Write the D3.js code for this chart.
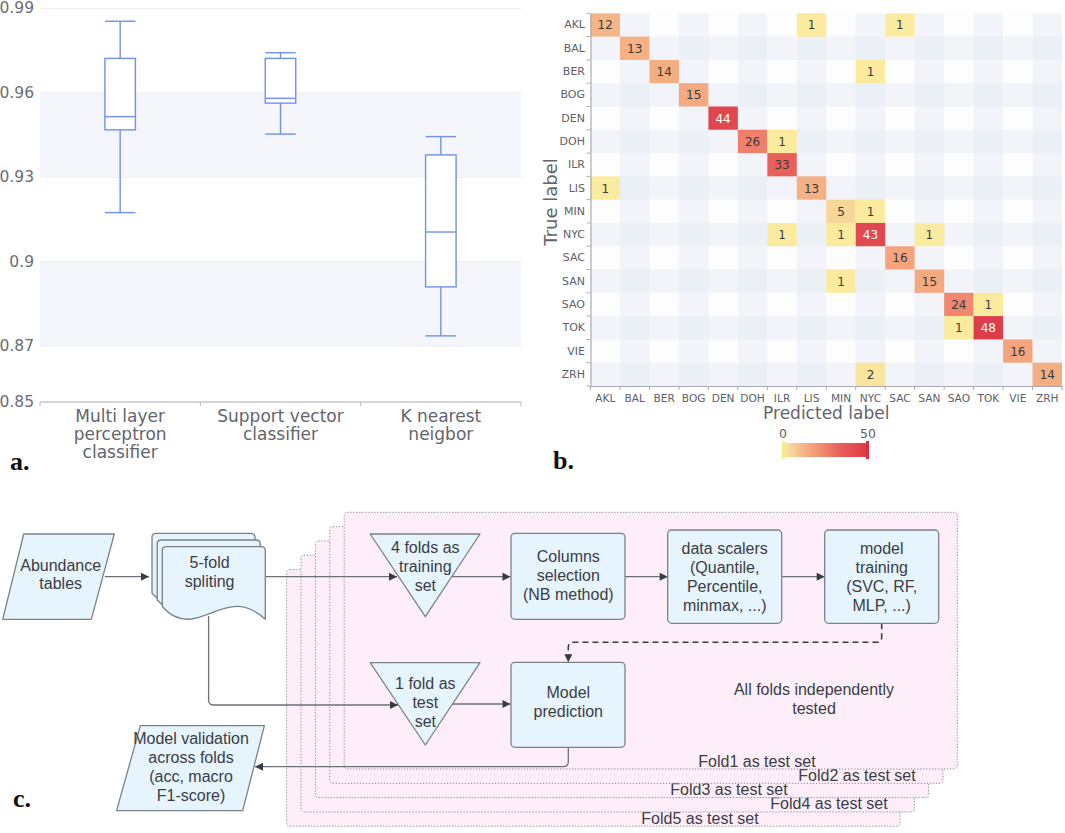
<!DOCTYPE html>
<html>
<head>
<meta charset="utf-8">
<script src="https://cdn.jsdelivr.net/npm/d3@7"></script>
<style>
  body { margin: 0; background: #fff; }
  svg { display: block; }
</style>
</head>
<body>
<div class="canvas"></div>
<script>
// ---- panel a: accuracy box plots
const boxLabels = [["Multi layer", "perceptron", "classifier"], ["Support vector", "classifier"], ["K nearest", "neigbor"]];
const boxLow    = [0.9173, 0.9452, 0.8735];
const boxQ1     = [0.9467, 0.9562, 0.8909];
const boxMedian = [0.9514, 0.9579, 0.9104];
const boxQ3     = [0.9721, 0.9721, 0.9378];
const boxHigh   = [0.9853, 0.9741, 0.9443];
const yTicks = [0.85, 0.87, 0.9, 0.93, 0.96, 0.99];

// ---- panel b: confusion matrix
const cities = ["AKL", "BAL", "BER", "BOG", "DEN", "DOH", "ILR", "LIS", "MIN", "NYC", "SAC", "SAN", "SAO", "TOK", "VIE", "ZRH"];
const confusion = [
  [12, 0, 0, 0, 0, 0, 0, 1, 0, 0, 1, 0, 0, 0, 0, 0],
  [0, 13, 0, 0, 0, 0, 0, 0, 0, 0, 0, 0, 0, 0, 0, 0],
  [0, 0, 14, 0, 0, 0, 0, 0, 0, 1, 0, 0, 0, 0, 0, 0],
  [0, 0, 0, 15, 0, 0, 0, 0, 0, 0, 0, 0, 0, 0, 0, 0],
  [0, 0, 0, 0, 44, 0, 0, 0, 0, 0, 0, 0, 0, 0, 0, 0],
  [0, 0, 0, 0, 0, 26, 1, 0, 0, 0, 0, 0, 0, 0, 0, 0],
  [0, 0, 0, 0, 0, 0, 33, 0, 0, 0, 0, 0, 0, 0, 0, 0],
  [1, 0, 0, 0, 0, 0, 0, 13, 0, 0, 0, 0, 0, 0, 0, 0],
  [0, 0, 0, 0, 0, 0, 0, 0, 5, 1, 0, 0, 0, 0, 0, 0],
  [0, 0, 0, 0, 0, 0, 1, 0, 1, 43, 0, 1, 0, 0, 0, 0],
  [0, 0, 0, 0, 0, 0, 0, 0, 0, 0, 16, 0, 0, 0, 0, 0],
  [0, 0, 0, 0, 0, 0, 0, 0, 1, 0, 0, 15, 0, 0, 0, 0],
  [0, 0, 0, 0, 0, 0, 0, 0, 0, 0, 0, 0, 24, 1, 0, 0],
  [0, 0, 0, 0, 0, 0, 0, 0, 0, 0, 0, 0, 1, 48, 0, 0],
  [0, 0, 0, 0, 0, 0, 0, 0, 0, 0, 0, 0, 0, 0, 16, 0],
  [0, 0, 0, 0, 0, 0, 0, 0, 0, 2, 0, 0, 0, 0, 0, 14]
];
const colorTicks = [0, 50];

// ---- panel c: flowchart texts
const abundanceText = ["Abundance", "tables"];
const splitText = ["5-fold", "spliting"];
const trainSetText = ["4 folds as", "training", "set"];
const testSetText = ["1 fold as", "test", "set"];
const columnsText = ["Columns", "selection", "(NB method)"];
const scalersText = ["data scalers", "(Quantile,", "Percentile,", "minmax, ...)"];
const trainingText = ["model", "training", "(SVC, RF,", "MLP, ...)"];
const predictionText = ["Model", "prediction"];
const validationText = ["Model validation", "across folds", "(acc, macro", "F1-score)"];
const noteText = ["All folds independently", "tested"];
const foldLabels = ["Fold1 as test set", "Fold2 as test set", "Fold3 as test set", "Fold4 as test set", "Fold5 as test set"];

const svg = d3.select('.canvas')
  .append('svg')
    .attr('width', 1065)
    .attr('height', 833);

const sans = 'DejaVu Sans, Verdana, sans-serif';
const arial = 'Liberation Sans, Arial, sans-serif';
const serif = 'Liberation Serif, Times New Roman, serif';

const panelLabel = (x, y, t) => svg.append('text')
  .attr('x', x).attr('y', y)
  .attr('font-family', serif).attr('font-weight', 'bold')
  .attr('font-size', 26).attr('fill', '#111')
  .text(t);

// ================= panel a =================
const bx = d3.scaleBand().domain(d3.range(boxLabels.length)).range([40, 521]);
const by = d3.scaleLinear().domain([0.85, 0.99]).range([402, 8]);

const boxG = svg.append('g');

// alternating bands
[[0.87, 0.9], [0.93, 0.96]].forEach(([a, b]) => {
  boxG.append('rect')
    .attr('x', 40).attr('width', 481)
    .attr('y', by(b)).attr('height', by(a) - by(b))
    .attr('fill', '#f4f6fb');
});

// gridlines + y labels
const yAxis = d3.axisLeft(by)
  .tickValues(yTicks)
  .tickFormat(d3.format('~g'))
  .tickSize(-481)
  .tickPadding(6);
const yAxisGroup = boxG.append('g')
  .attr('transform', 'translate(40,0)')
  .call(yAxis);
yAxisGroup.select('.domain').remove();
yAxisGroup.selectAll('line').attr('stroke', '#eceef3');
yAxisGroup.selectAll('text')
  .attr('font-family', sans).attr('font-size', 15.5).attr('fill', '#6a6d75');

// x axis line with boundary ticks
boxG.append('line')
  .attr('x1', 40).attr('x2', 521).attr('y1', by(0.85)).attr('y2', by(0.85))
  .attr('stroke', '#b4b6bb').attr('stroke-width', 1.2);
d3.range(boxLabels.length + 1).forEach(i => {
  const x = 40 + i * bx.step();
  boxG.append('line')
    .attr('x1', x).attr('x2', x).attr('y1', by(0.85)).attr('y2', by(0.85) + 4)
    .attr('stroke', '#b4b6bb');
});
boxLabels.forEach((lines, i) => {
  const t = boxG.append('text')
    .attr('text-anchor', 'middle')
    .attr('font-family', sans).attr('font-size', 17).attr('fill', '#62656d');
  lines.forEach((l, k) => {
    t.append('tspan')
      .attr('x', bx(i) + bx.bandwidth() / 2)
      .attr('y', 422 + k * 18)
      .text(l);
  });
});

// boxes
const boxW = 30.5;
const boxColor = '#7191ea';
boxLabels.forEach((_, i) => {
  const cx = bx(i) + bx.bandwidth() / 2;
  const g = boxG.append('g').attr('stroke', boxColor).attr('stroke-width', 1.4).attr('fill', 'none');
  g.append('line').attr('x1', cx).attr('x2', cx).attr('y1', by(boxHigh[i])).attr('y2', by(boxLow[i]));
  [boxHigh[i], boxLow[i]].forEach(v => {
    g.append('line').attr('x1', cx - boxW / 2).attr('x2', cx + boxW / 2).attr('y1', by(v)).attr('y2', by(v));
  });
  g.append('rect')
    .attr('x', cx - boxW / 2).attr('width', boxW)
    .attr('y', by(boxQ3[i])).attr('height', by(boxQ1[i]) - by(boxQ3[i]))
    .attr('fill', '#fff');
  g.append('line').attr('x1', cx - boxW / 2).attr('x2', cx + boxW / 2)
    .attr('y1', by(boxMedian[i])).attr('y2', by(boxMedian[i]));
});

panelLabel(10, 470, 'a.');

// ================= panel b =================
const hx = d3.scaleBand().domain(cities).range([590.5, 1062]);
const hy = d3.scaleBand().domain(cities).range([13.3, 386]);
const color = d3.scaleLinear()
  .domain([0, 1, 5, 13, 26, 33, 44, 50])
  .range(['#fbf3a8', '#faeb9f', '#f7d698', '#f5b184', '#ef7f6a', '#e9605a', '#e0474f', '#db3845']);

const heatG = svg.append('g');
heatG.append('rect')
  .attr('x', hx.range()[0]).attr('y', hy.range()[0])
  .attr('width', hx.range()[1] - hx.range()[0]).attr('height', hy.range()[1] - hy.range()[0])
  .attr('fill', '#fdfdfe');
cities.forEach((c, i) => {
  if (i % 2 === 1) {
    heatG.append('rect')
      .attr('x', hx.range()[0]).attr('width', hx.range()[1] - hx.range()[0])
      .attr('y', hy(c)).attr('height', hy.bandwidth())
      .attr('fill', '#e3e7f4').attr('opacity', 0.42);
    heatG.append('rect')
      .attr('y', hy.range()[0]).attr('height', hy.range()[1] - hy.range()[0])
      .attr('x', hx(c)).attr('width', hx.bandwidth())
      .attr('fill', '#e3e7f4').attr('opacity', 0.42);
  }
});

const cells = [];
confusion.forEach((row, r) => row.forEach((v, c) => {
  if (v > 0) cells.push({ t: cities[r], p: cities[c], v });
}));

heatG.selectAll('rect.cell')
  .data(cells)
  .enter()
  .append('rect')
    .attr('class', 'cell')
    .attr('x', d => hx(d.p))
    .attr('y', d => hy(d.t))
    .attr('width', hx.bandwidth())
    .attr('height', hy.bandwidth())
    .attr('fill', d => color(d.v));

heatG.selectAll('text.val')
  .data(cells)
  .enter()
  .append('text')
    .attr('class', 'val')
    .attr('x', d => hx(d.p) + hx.bandwidth() / 2)
    .attr('y', d => hy(d.t) + hy.bandwidth() / 2 + 4.5)
    .attr('text-anchor', 'middle')
    .attr('font-family', sans).attr('font-size', 12)
    .attr('fill', d => d.v >= 40 ? '#fff' : '#3a3a3a')
    .text(d => d.v);

// axes (labels at centres, ticks at cell edges)
const hxAxis = heatG.append('g')
  .attr('transform', `translate(0,${hy.range()[1]})`)
  .call(d3.axisBottom(hx).tickSize(0).tickPadding(8));
const hyAxis = heatG.append('g')
  .attr('transform', `translate(${hx.range()[0]},0)`)
  .call(d3.axisLeft(hy).tickSize(0).tickPadding(5.5));
[hxAxis, hyAxis].forEach(a => {
  a.select('.domain').attr('stroke', '#a9abb0').attr('stroke-width', 1.2);
  a.selectAll('text').attr('font-family', sans).attr('fill', '#5d6068');
});
hxAxis.selectAll('text').attr('font-size', 10.6);
hyAxis.selectAll('text').attr('font-size', 11);
cities.concat(['end']).forEach((c, i) => {
  const x = hx.range()[0] + i * hx.step();
  const y = hy.range()[0] + i * hy.step();
  heatG.append('line').attr('x1', x).attr('x2', x)
    .attr('y1', hy.range()[1]).attr('y2', hy.range()[1] + 4).attr('stroke', '#a9abb0');
  heatG.append('line').attr('y1', y).attr('y2', y)
    .attr('x1', hx.range()[0] - 4).attr('x2', hx.range()[0]).attr('stroke', '#a9abb0');
});

heatG.append('text')
  .attr('x', (hx.range()[0] + hx.range()[1]) / 2).attr('y', 419)
  .attr('text-anchor', 'middle')
  .attr('font-family', sans).attr('font-size', 17).attr('fill', '#62656d')
  .text('Predicted label');
heatG.append('text')
  .attr('transform', 'translate(557,202) rotate(-90)')
  .attr('text-anchor', 'middle')
  .attr('font-family', sans).attr('font-size', 18).attr('fill', '#62656d')
  .text('True label');

// colorbar
const cb = d3.scaleLinear().domain([0, 50]).range([783, 868]);
const grad = svg.append('defs').append('linearGradient').attr('id', 'cbar');
d3.range(0, 51, 5).forEach(v => {
  grad.append('stop').attr('offset', (v / 50 * 100) + '%').attr('stop-color', color(Math.max(v, 1)));
});
heatG.append('rect')
  .attr('x', cb(0)).attr('width', cb(50) - cb(0))
  .attr('y', 443).attr('height', 14)
  .attr('fill', 'url(#cbar)');
heatG.append('rect').attr('x', cb(0) - 1).attr('y', 441).attr('width', 3).attr('height', 18).attr('fill', '#f8ea8e');
heatG.append('rect').attr('x', cb(50) - 2).attr('y', 441).attr('width', 3).attr('height', 18).attr('fill', '#d92f3f');
colorTicks.forEach(v => {
  heatG.append('text')
    .attr('x', cb(v)).attr('y', 438)
    .attr('text-anchor', 'middle')
    .attr('font-family', sans).attr('font-size', 12.5).attr('fill', '#5d6068')
    .text(v);
});

panelLabel(553, 469, 'b.');

// ================= panel c =================
const flow = svg.append('g');
const defs = svg.select('defs');
defs.append('marker')
  .attr('id', 'arrow')
  .attr('viewBox', '0 0 10 10')
  .attr('refX', 10).attr('refY', 5)
  .attr('markerUnits', 'userSpaceOnUse')
  .attr('markerWidth', 12).attr('markerHeight', 8)
  .attr('orient', 'auto')
  .append('path').attr('d', 'M0,0 L10,5 L0,10 z').attr('fill', '#383b42');

const nodeFill = '#e6f4fd';
const nodeStroke = '#7c8088';
const textCol = '#3a3d44';

const writeLines = (lines, cx, cy, lh = 19, size = 16) => {
  const t = flow.append('text')
    .attr('text-anchor', 'middle')
    .attr('font-family', arial).attr('font-size', size).attr('fill', textCol);
  const y0 = cy - (lines.length - 1) * lh / 2 + size * 0.36;
  lines.forEach((l, k) => t.append('tspan').attr('x', cx).attr('y', y0 + k * lh).text(l));
};

// stacked fold panels, back to front
const foldLabelX = [757, 857, 729, 829, 700];
d3.range(foldLabels.length).reverse().forEach(k => {
  const left = 344.2 - 14.4 * k, top = 512.3 + 14.3 * k;
  const right = 957.3 - 14.3 * k, bottom = 769 + 14.3 * k;
  flow.append('rect')
    .attr('x', left).attr('y', top)
    .attr('width', right - left).attr('height', bottom - top)
    .attr('rx', 3)
    .attr('fill', '#fdeefa')
    .attr('stroke', '#8f8f93').attr('stroke-width', 1)
    .attr('stroke-dasharray', '1.3,1.7');
  flow.append('text')
    .attr('x', foldLabelX[k]).attr('y', bottom - 2.5)
    .attr('text-anchor', 'middle')
    .attr('font-family', arial).attr('font-size', 16).attr('fill', textCol)
    .text(foldLabels[k]);
});

writeLines(noteText, 814, 698.5);

// connectors
const conn = (d, dashed) => flow.append('path')
  .attr('d', d)
  .attr('fill', 'none')
  .attr('stroke', dashed ? '#3a3d44' : '#6d7077')
  .attr('stroke-width', dashed ? 1.6 : 1.3)
  .attr('stroke-dasharray', dashed ? '6,4' : null)
  .attr('marker-end', 'url(#arrow)');

conn('M104.8,576.7 H149');
conn('M265.4,576.7 H397');
conn('M452,576.7 H510.5');
conn('M625,576.7 H667.7');
conn('M781.7,576.7 H824.7');
conn('M881.7,623.3 V637 Q881.7,642.3 876.4,642.3 H573.6 Q568.3,642.3 568.3,647.6 V662.3', true);
conn('M208.6,616 V700 Q208.6,705 213.6,705 H398');
conn('M452,704 H510.5');
conn('M568.3,747.3 V761.7 Q568.3,766.7 563.3,766.7 H255');

const shape = d => flow.append('path')
  .attr('d', d)
  .attr('fill', nodeFill).attr('stroke', nodeStroke).attr('stroke-width', 1.3)
  .attr('stroke-linejoin', 'round');

// abundance tables (input parallelogram)
shape('M23.7,534 H114.3 L91.3,619.3 H2.7 Z');
writeLines(abundanceText, 60.7, 574.2, 18.3);

// document stack
const docPath = (x, y) => {
  const w = 103, h = 60;
  return `M${x},${y + h} V${y + 4} Q${x},${y} ${x + 4},${y} H${x + w - 4} Q${x + w},${y} ${x + w},${y + 4} ` +
    `V${y + h + 12.6} C${x + 62},${y + h - 26} ${x + 35},${y + h + 38} ${x},${y + h} Z`;
};
shape(docPath(152, 533.3));
shape(docPath(157.2, 540));
shape(docPath(162.3, 546.7));
writeLines(splitText, 209.6, 572.2);

// triangles
shape('M370.2,534 H480 L425.3,616.7 Z');
writeLines(trainSetText, 425.3, 566.7);
shape('M370.2,662.7 H480 L425.3,745 Z');
writeLines(testSetText, 425.3, 702.3);

// process boxes
const box = (x0, y0, x1, y1) => flow.append('rect')
  .attr('x', x0).attr('y', y0).attr('width', x1 - x0).attr('height', y1 - y0)
  .attr('rx', 4)
  .attr('fill', nodeFill).attr('stroke', nodeStroke).attr('stroke-width', 1.3);

box(511, 533.3, 625, 619.3);
writeLines(columnsText, 568.3, 575);
box(667.7, 530, 781.7, 623.3);
writeLines(scalersText, 724.7, 577.2);
box(824.7, 530, 938.7, 623.3);
writeLines(trainingText, 881.7, 577.2);
box(511, 662.3, 625, 747.3);
writeLines(predictionText, 568.3, 702.2);

// validation output parallelogram
shape('M140.3,725.7 H264.4 L242.7,810.7 H116.6 Z');
writeLines(validationText, 191, 767);

panelLabel(13, 807, 'c.');
</script>
</body>
</html>
